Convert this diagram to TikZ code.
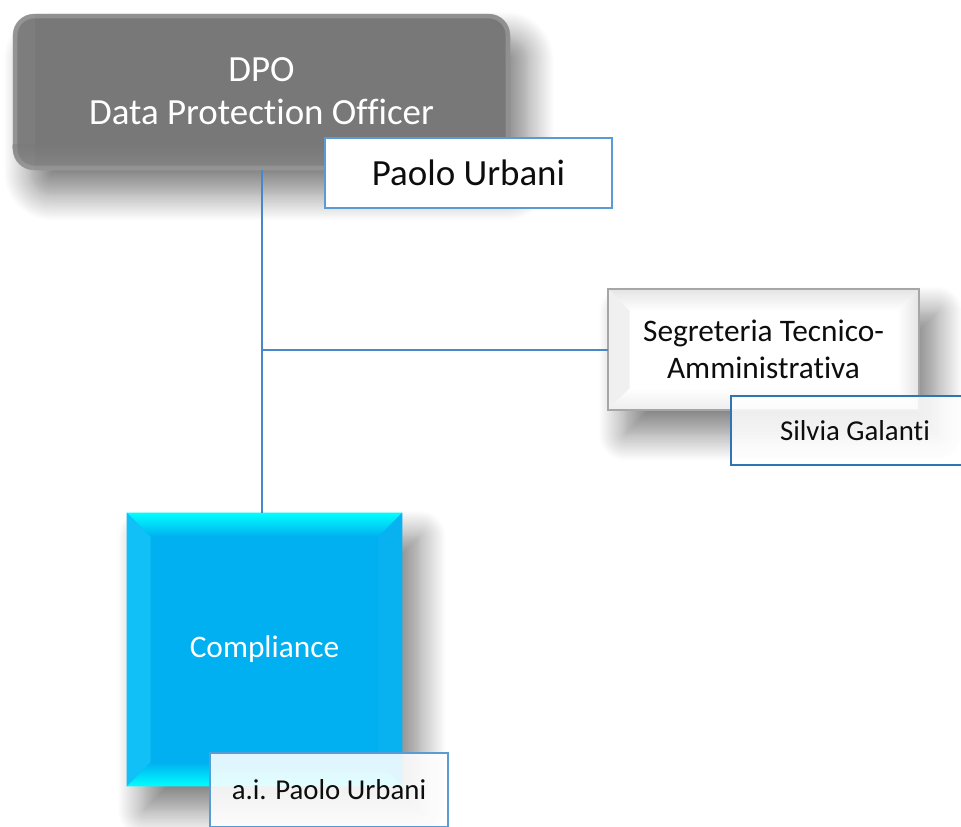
\documentclass[tikz,border=0pt]{standalone}
\usepackage{fontspec}
\setmainfont{Carlito}[Ligatures=NoCommon]
\usetikzlibrary{calc,shadows.blur}
\definecolor{dpogray}{HTML}{787878}
\definecolor{dpolight}{HTML}{A0A0A0}
\definecolor{lineblue}{HTML}{4A86CC}
\definecolor{cyanmain}{HTML}{00B0F0}
\definecolor{cyanlight}{HTML}{00FFFF}
\definecolor{cyanside}{HTML}{10C0F6}
\definecolor{segborder}{HTML}{A6A6A6}
\definecolor{segbevel}{HTML}{E4E4E4}
\definecolor{namblue}{HTML}{5B9BD5}
\definecolor{namdark}{HTML}{2E75B6}
\definecolor{txt}{HTML}{0D0D0D}
\tikzset{
  boxshadow/.style={blur shadow={shadow xshift=13pt, shadow yshift=-18pt,
      shadow blur radius=20pt, shadow blur steps=16, shadow opacity=50}},
  unitbox/.style={rectangle, inner sep=0pt, align=center},
  bigfont/.style={font=\fontsize{27.7}{32.5}\selectfont},
  midfont/.style={font=\fontsize{23.5}{28}\selectfont},
  smallfont/.style={font=\fontsize{21.6}{26}\selectfont},
  namebox/.style={unitbox, fill=white, text=txt, line width=1.8pt},
  connector/.style={draw=lineblue, line width=1.5pt, opacity=1},
}
\begin{document}
\begin{tikzpicture}[x=0.75pt, y=-0.75pt]
\useasboundingbox (0,0) rectangle (961,826);
\begin{scope}
\clip (0,0) rectangle (961,826);

% DPO box
\node[unitbox, boxshadow, bigfont, rounded corners=16pt, fill=dpogray, text=white,
      minimum width=497*0.75pt, minimum height=156*0.75pt] (dpo) at (261.5,92)
      {\raisebox{1.5pt}{DPO}\\\raisebox{1.5pt}{Data Protection Officer}};
\begin{scope}
  \clip[rounded corners=16pt] (dpo.north west) rectangle (dpo.south east);
  \draw[dpolight, line width=7pt, opacity=0.6, rounded corners=16pt]
       (dpo.north west) rectangle (dpo.south east);
  \fill[white, opacity=0.04] (dpo.north west) rectangle ($(dpo.south west)+(22,0)$);
  \shade[top color=dpogray, bottom color=dpolight, opacity=0.35]
       ($(dpo.south west)+(0,-26)$) rectangle (dpo.south east);
\end{scope}

\node[namebox, bigfont, draw=namblue,
      minimum width=287*0.75pt, minimum height=70*0.75pt] (pu) at (468.5,173)
      {Paolo Urbani};

% Segreteria box
\node[unitbox, boxshadow, midfont, fill=white, text=txt,
      minimum width=311*0.75pt, minimum height=121*0.75pt] (seg) at (763.5,349.5)
      {Segreteria Tecnico-\\Amministrativa};
\shade[top color=segbevel, bottom color=white]
  (seg.north west) -- (seg.north east) -- ($(seg.north east)+(-22,22)$) -- ($(seg.north west)+(22,22)$) -- cycle;
\fill[white!94!black]
  (seg.north west) -- ($(seg.north west)+(22,22)$) -- ($(seg.south west)+(22,-22)$) -- (seg.south west) -- cycle;
\shade[left color=white, right color=segbevel]
  (seg.north east) -- ($(seg.north east)+(-22,22)$) -- ($(seg.south east)+(-22,-22)$) -- (seg.south east) -- cycle;
\shade[top color=white, bottom color=white!93!black]
  (seg.south west) -- ($(seg.south west)+(22,-22)$) -- ($(seg.south east)+(-22,-22)$) -- (seg.south east) -- cycle;
\draw[segborder, line width=1.5pt] (seg.north west) rectangle (seg.south east);

\node[namebox, smallfont, draw=namdark, fill opacity=0.85, text opacity=1,
      minimum width=248*0.75pt, minimum height=69*0.75pt] (sg) at (855,430.5)
      {Silvia Galanti};

% Compliance box
\node[unitbox, boxshadow, midfont, fill=cyanmain, text=white,
      minimum width=275*0.75pt, minimum height=273*0.75pt] (comp) at (264.5,649.5)
      {\raisebox{3pt}{Compliance}};
\shade[top color=cyanlight, bottom color=cyanmain]
  (comp.north west) -- (comp.north east) -- ($(comp.north east)+(-24,24)$) -- ($(comp.north west)+(24,24)$) -- cycle;
\fill[cyanside]
  (comp.north west) -- ($(comp.north west)+(24,24)$) -- ($(comp.south west)+(24,-24)$) -- (comp.south west) -- cycle;
\fill[cyanmain!97!white]
  (comp.north east) -- ($(comp.north east)+(-24,24)$) -- ($(comp.south east)+(-24,-24)$) -- (comp.south east) -- cycle;
\shade[top color=cyanmain, bottom color=cyanlight]
  (comp.south west) -- ($(comp.south west)+(24,-24)$) -- ($(comp.south east)+(-24,-24)$) -- (comp.south east) -- cycle;

\node[namebox, smallfont, draw=namblue, fill opacity=0.88, text opacity=1,
      minimum width=238*0.75pt, minimum height=74*0.75pt] (ai) at (329,790)
      {a.i. Paolo Urbani};
\end{scope}

% connectors
\coordinate (j) at (dpo.south |- seg.west);
\draw[connector] (dpo.south) -- (dpo.south |- comp.north);
\draw[connector] (j) -- (seg.west);
\end{tikzpicture}
\end{document}
